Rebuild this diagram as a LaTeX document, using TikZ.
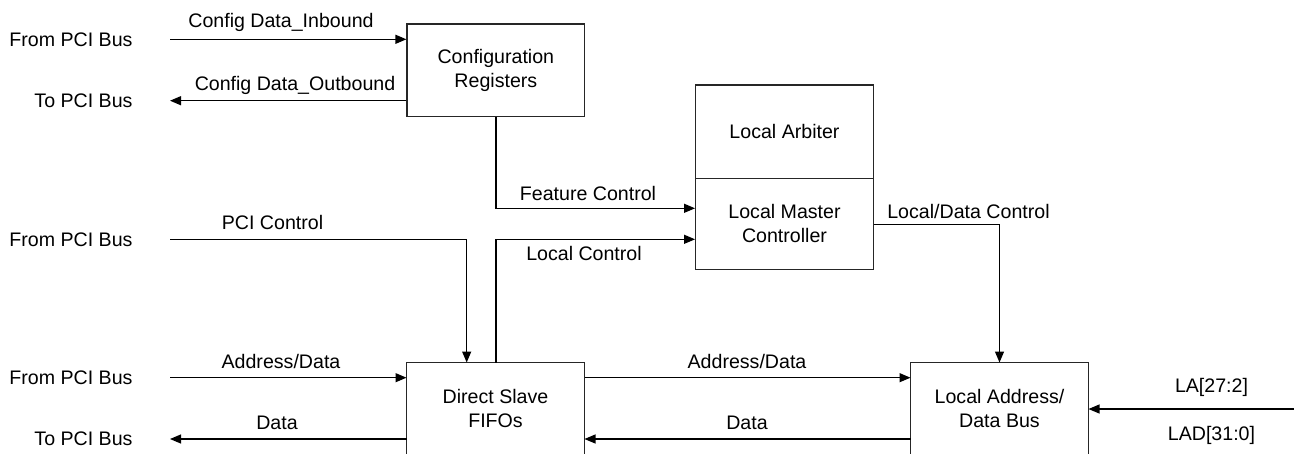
\documentclass[tikz,border=0pt]{standalone}
\usepackage{fontspec}
\setmainfont{Liberation Sans}
\usetikzlibrary{arrows.meta}
\begin{document}
\begin{tikzpicture}[x=1pt,y=-1pt,
  every node/.style={font=\fontsize{19.6}{24}\selectfont, inner sep=0pt},
  box/.style={draw=black!85, line width=1.3pt, align=center, minimum width=177.6pt},
  openbox/.style={align=center, minimum width=177.6pt},
  boxline/.style={draw=black!85, line width=1.3pt},
  lbl/.style={align=center},
  side/.style={anchor=east},
  arr/.style={line width=1.2pt, -{Triangle[length=11pt,width=9pt]}},
  ln/.style={line width=1.2pt}]
\useasboundingbox (0,0) rectangle (1294,453);
\clip (0,0) rectangle (1294,453);

% boxes
\node[box, minimum height=92.3pt] (cr) at (495.85,70.15) {Configuration\\Registers};
\node[box, minimum height=93.3pt] (la) at (784.5,131.65) {Local Arbiter};
\node[box, minimum height=91pt] (lmc) at (784.5,223.8) {Local Master\\Controller};
\node[openbox, minimum height=91pt] (ds) at (495.5,408.2) {Direct Slave\\FIFOs};
\node[openbox, minimum height=91pt] (ladb) at (999.5,408.2) {Local Address/\\Data Bus};
% bottom boxes run past the lower edge of the picture
\draw[boxline] (ds.north west) rectangle ([yshift=-20pt]ds.south east);
\draw[boxline] (ladb.north west) rectangle ([yshift=-20pt]ladb.south east);

% side labels
\node[side] (f1) at (132.7,39.3) {From PCI Bus};
\node[side] (t1) at (132.7,100.7) {To PCI Bus};
\node[side] (f2) at (132.7,239.3) {From PCI Bus};
\node[side] (f3) at (132.7,377.7) {From PCI Bus};
\node[side] (t2) at (132.7,439) {To PCI Bus};

% free ends
\coordinate (s1) at (170,39.3);
\coordinate (s2) at (170,100.7);
\coordinate (s3) at (170,239.3);
\coordinate (s4) at (170,377.7);
\coordinate (s5) at (170,439);
\coordinate (fcy) at (0,208.3);
\coordinate (ldy) at (0,224.7);
\coordinate (pcx) at (466.7,0);
\coordinate (lcx) at (496,0);
\coordinate (rr) at (1294,409);

% connectors
\draw[arr] (s1) -- (cr.west |- s1);
\draw[arr] (cr.west |- s2) -- (s2);
\draw[arr] (cr.south -| lcx) |- (lmc.west |- fcy);
\draw[arr] (s3) -| (pcx |- ds.north);
\draw[arr] (ds.north -| lcx) |- (lmc.west |- s3);
\draw[arr] (lmc.east |- ldy) -| (ladb.north);
\draw[arr] (s4) -- (ds.west |- s4);
\draw[arr] (ds.west |- s5) -- (s5);
\draw[arr] (ds.east |- s4) -- (ladb.west |- s4);
\draw[arr] (ladb.west |- s5) -- (ds.east |- s5);
\draw[arr] (rr) -- (ladb.east |- rr);

% connector labels
\node[lbl] (l1) at (281,22) {Config Data\_Inbound};
\node[lbl] (l2) at (295,85) {Config Data\_Outbound};
\node[lbl] (l3) at (588,193) {Feature Control};
\node[lbl] (l4) at (584,253.5) {Local Control};
\node[lbl] (l5) at (272.5,222.5) {PCI Control};
\node[lbl] (l6) at (968.5,211) {Local/Data Control};
\node[lbl] (l7) at (281,361.5) {Address/Data};
\node[lbl] (l8) at (277,423) {Data};
\node[lbl] (l9) at (747,361.5) {Address/Data};
\node[lbl] (l10) at (747,423) {Data};
\node[lbl] (l11) at (1211.5,387) {LA[27:2]};
\node[lbl] (l12) at (1211.5,435) {LAD[31:0]};
\end{tikzpicture}
\end{document}
